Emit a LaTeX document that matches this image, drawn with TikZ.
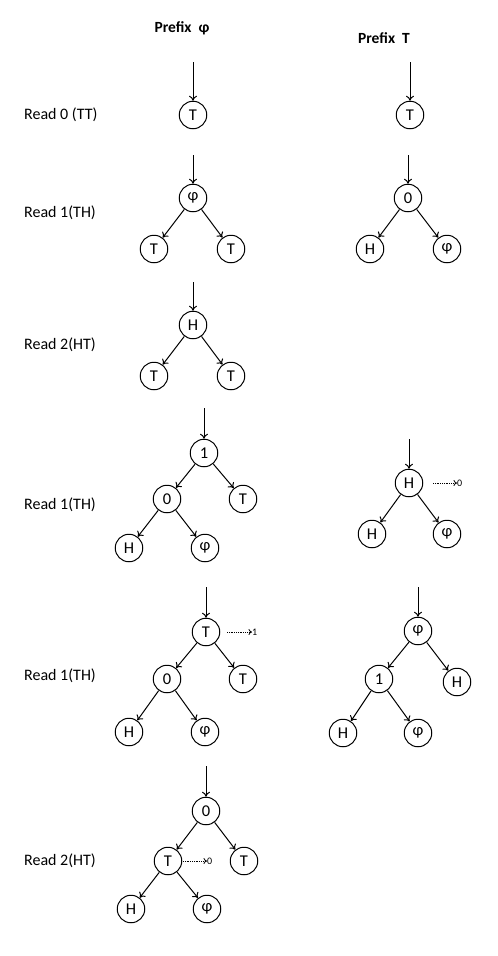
\documentclass[tikz,border=0pt]{standalone}
\usepackage{fontspec}
\setmainfont{Carlito}
\usetikzlibrary{arrows.meta}
\begin{document}
\begin{tikzpicture}[x=1pt,y=-1pt,
  st/.style={circle,draw,line width=1pt,minimum size=27.5pt,inner sep=0pt,font=\fontsize{16.5}{18}\selectfont},
  lbl/.style={anchor=west,font=\fontsize{16}{18}\selectfont,inner sep=0pt},
  hdr/.style={font=\bfseries\fontsize{15.5}{17}\selectfont,inner sep=0pt},
  ed/.style={line width=1pt,-{To[length=5pt,width=8pt]}},
  dt/.style={densely dotted,line width=0.8pt,-{To[length=3.5pt,width=6pt]}},
  sm/.style={anchor=west,inner sep=0pt,font=\fontsize{10}{11}\selectfont}]
\useasboundingbox (0,0) rectangle (498,956);
% headers
\node[hdr] (h1) at (182,28) {Prefix\ \ φ};
\node[hdr] (h2) at (384,38) {Prefix\ \ T};
% row labels
\node[lbl] (l1) at (24,115) {Read 0 (TT)};
\node[lbl] (l2) at (24,213) {Read 1(TH)};
\node[lbl] (l3) at (24,345) {Read 2(HT)};
\node[lbl] (l4) at (24,505) {Read 1(TH)};
\node[lbl] (l5) at (24,676) {Read 1(TH)};
\node[lbl] (l6) at (24,861) {Read 2(HT)};
% row 1
\coordinate (s1a) at (193,62);
\node[st] (a1) at (193,115) {T};
\draw[ed] (s1a) -- (a1);
\coordinate (s1b) at (410,62);
\node[st] (b1) at (410,115) {T};
\draw[ed] (s1b) -- (b1);
% row 2
\coordinate (s2a) at (193,155);
\node[st] (a2) at (193,198) {φ};
\node[st] (a2l) at (154,249) {T};
\node[st] (a2r) at (231,249) {T};
\draw[ed] (s2a) -- (a2);
\draw[ed] (a2) -- (a2l);
\draw[ed] (a2) -- (a2r);
\coordinate (s2b) at (408,155);
\node[st] (b2) at (408,198) {0};
\node[st] (b2l) at (370,249) {H};
\node[st] (b2r) at (447,249) {φ};
\draw[ed] (s2b) -- (b2);
\draw[ed] (b2) -- (b2l);
\draw[ed] (b2) -- (b2r);
% row 3
\coordinate (s3a) at (193,282);
\node[st] (a3) at (193,325) {H};
\node[st] (a3l) at (154,376) {T};
\node[st] (a3r) at (231,376) {T};
\draw[ed] (s3a) -- (a3);
\draw[ed] (a3) -- (a3l);
\draw[ed] (a3) -- (a3r);
% row 4
\coordinate (s4a) at (204,408);
\node[st] (a4) at (204,453) {1};
\node[st] (a4l) at (167,499) {0};
\node[st] (a4r) at (243,499) {T};
\node[st] (a4ll) at (129,548) {H};
\node[st] (a4lr) at (205,548) {φ};
\draw[ed] (s4a) -- (a4);
\draw[ed] (a4) -- (a4l);
\draw[ed] (a4) -- (a4r);
\draw[ed] (a4l) -- (a4ll);
\draw[ed] (a4l) -- (a4lr);
\coordinate (s4b) at (409,439);
\node[st] (b4) at (409,483) {H};
\node[st] (b4l) at (372,534) {H};
\node[st] (b4r) at (447,534) {φ};
\draw[ed] (s4b) -- (b4);
\draw[ed] (b4) -- (b4l);
\draw[ed] (b4) -- (b4r);
\coordinate (d4s) at (433,483);
\node[sm] (d4t) at (457,483) {0};
\draw[dt] (d4s) -- (d4t.west);
% row 5
\coordinate (s5a) at (206,587);
\node[st] (a5) at (206,632) {T};
\node[st] (a5l) at (167,679) {0};
\node[st] (a5r) at (243,679) {T};
\node[st] (a5ll) at (129,732) {H};
\node[st] (a5lr) at (205,732) {φ};
\draw[ed] (s5a) -- (a5);
\draw[ed] (a5) -- (a5l);
\draw[ed] (a5) -- (a5r);
\draw[ed] (a5l) -- (a5ll);
\draw[ed] (a5l) -- (a5lr);
\coordinate (d5s) at (227,632);
\node[sm] (d5t) at (252,632) {1};
\draw[dt] (d5s) -- (d5t.west);
\coordinate (s5b) at (418,587);
\node[st] (b5) at (418,631) {φ};
\node[st] (b5l) at (379,679) {1};
\node[st] (b5r) at (457,682) {H};
\node[st] (b5ll) at (343,733) {H};
\node[st] (b5lr) at (418,733) {φ};
\draw[ed] (s5b) -- (b5);
\draw[ed] (b5) -- (b5l);
\draw[ed] (b5) -- (b5r);
\draw[ed] (b5l) -- (b5ll);
\draw[ed] (b5l) -- (b5lr);
% row 6
\coordinate (s6a) at (206,766);
\node[st] (a6) at (206,811) {0};
\node[st] (a6l) at (168,861) {T};
\node[st] (a6r) at (244,861) {T};
\node[st] (a6ll) at (131,909) {H};
\node[st] (a6lr) at (207,909) {φ};
\draw[ed] (s6a) -- (a6);
\draw[ed] (a6) -- (a6l);
\draw[ed] (a6) -- (a6r);
\draw[ed] (a6l) -- (a6ll);
\draw[ed] (a6l) -- (a6lr);
\coordinate (d6s) at (183,861);
\node[sm] (d6t) at (207,861) {0};
\draw[dt] (d6s) -- (d6t.west);
\end{tikzpicture}
\end{document}
